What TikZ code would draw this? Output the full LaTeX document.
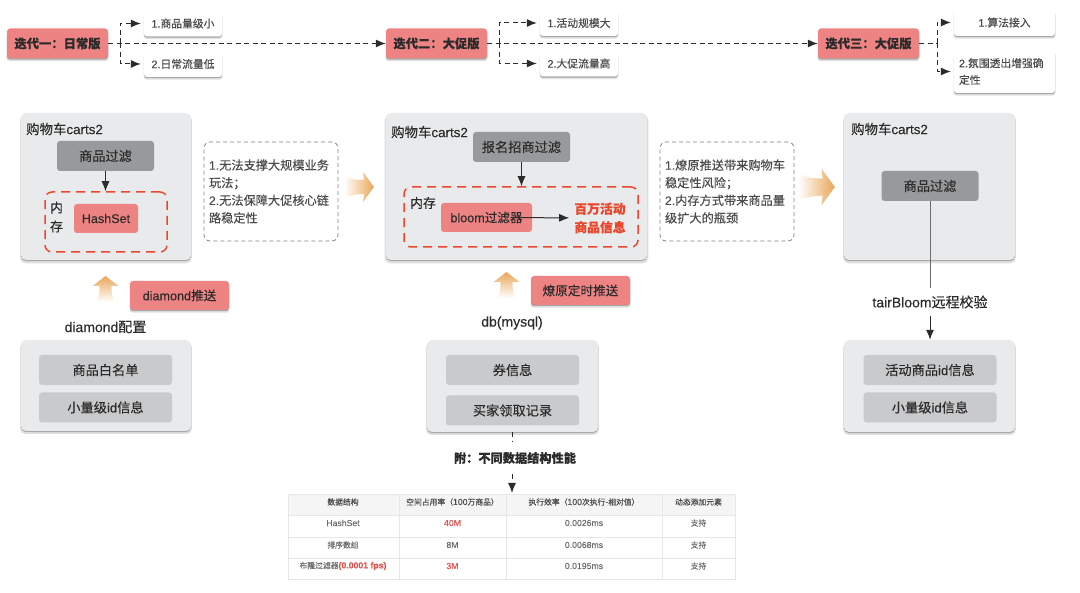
\documentclass[tikz,border=0pt]{standalone}
\usepackage{fontspec}
\setmainfont{Noto Sans CJK SC}[FakeBold=0.2]
\newfontfamily\lat{Liberation Sans}[FakeBold=0.2]
\newcommand{\la}[1]{{\lat #1}}
\newcommand{\lt}[1]{{\fontsize{8.7}{9}\selectfont\lat #1}}
\usetikzlibrary{arrows.meta,positioning,shadows}
\definecolor{salmon}{HTML}{EE8383}
\definecolor{panel}{HTML}{E9EAEB}
\definecolor{darkitem}{HTML}{98999B}
\definecolor{lightitem}{HTML}{C9CACC}
\definecolor{redline}{HTML}{E8492E}
\definecolor{flare}{HTML}{E9A65A}
\definecolor{ink}{HTML}{2B2B2B}
\definecolor{tableline}{HTML}{E6E7E9}
\definecolor{tablered}{HTML}{D9534F}
\tikzset{
	softshadow/.style = {drop shadow={shadow xshift=0pt, shadow yshift=-2.5pt, shadow scale=1.01, fill=black, opacity=.12}, drop shadow={shadow xshift=0pt, shadow yshift=-1.2pt, fill=black, opacity=.25}},
	iter/.style = {fill=salmon, rounded corners=3pt, minimum width=101pt, minimum height=30pt, inner sep=0pt, softshadow, text=ink, font=\fontsize{12.3}{14}\selectfont\bfseries},
	leaf/.style = {fill=white, rounded corners=3pt, minimum width=78pt, minimum height=26pt, inner sep=0pt, softshadow, text=ink!85, font=\fontsize{10.8}{16.7}\selectfont},
	panelbox/.style = {fill=panel, rounded corners=5pt, inner sep=0pt, softshadow},
	captext/.style = {text=ink, inner sep=0pt, font=\fontsize{13}{15}\selectfont},
	titletext/.style = {captext, anchor=west, font=\fontsize{13.4}{15}\selectfont},
	darkbox/.style = {fill=darkitem, rounded corners=3pt, minimum width=97pt, minimum height=30pt, inner sep=0pt, text=ink, font=\fontsize{13.2}{15}\selectfont},
	lightbox/.style = {fill=lightitem, rounded corners=3pt, minimum width=133pt, minimum height=30pt, inner sep=0pt, text=ink, font=\fontsize{13.2}{15}\selectfont},
	redbox/.style = {fill=salmon, rounded corners=3pt, minimum height=29pt, inner sep=0pt, text=ink, font=\fontsize{12.6}{15}\selectfont},
	memory/.style = {draw=redline, line width=1.5pt, dash pattern=on 9pt off 6pt, rounded corners=7pt, inner sep=0pt},
	note/.style = {draw=ink!60, line width=.8pt, dash pattern=on 4pt off 3pt, rounded corners=6pt, minimum width=134pt, minimum height=99pt, inner sep=5pt, text width=124pt, align=left, text=ink!85, font=\fontsize{12.2}{17.6}\selectfont},
	cell/.style = {inner sep=0pt, text=ink!70, font=\fontsize{7.8}{9}\selectfont},
	head/.style = {cell, text=ink!85, font=\fontsize{7.8}{9}\selectfont},
	dashplain/.style = {draw=ink, line width=1pt, dash pattern=on 5pt off 3.5pt},
	dashflow/.style = {dashplain, -{Latex[length=10pt,width=8pt]}},
	flow/.style = {draw=ink, line width=1pt, -{Latex[length=10pt,width=8pt]}},
	flareright/.pic = {\shade[left color=white, right color=flare] (0,-11) .. controls (8,-7) and (14,-7) .. (20,-7) -- (19,-15) -- (30,0) -- (19,15) -- (20,7) .. controls (14,7) and (8,8) .. (0,11) -- cycle;},
	flareup/.pic = {\shade[bottom color=white, top color=flare] (-9,0) .. controls (-6,-6) and (-6,-10) .. (-6,-16) -- (-13,-16) -- (0,-26) -- (13,-16) -- (6,-16) .. controls (6,-10) and (6,-6) .. (9,0) -- cycle;},
}
\begin{document}
\begin{tikzpicture}[x=1pt, y=-1pt]
	\useasboundingbox (0,0) rectangle (1080,593);
	% top row
	\node[iter] (iter1) at (57.5,43.5) {迭代一：日常版};
	\node[iter] (iter2) at (436.5,43.5) {迭代二：大促版};
	\node[iter] (iter3) at (868.5,43.5) {迭代三：大促版};
	\node[leaf] (leaf11) at (183,23.5) {\la{1.}商品量级小};
	\node[leaf] (leaf12) at (183,64) {\la{2.}日常流量低};
	\node[leaf] (leaf21) at (579,23) {\la{1.}活动规模大};
	\node[leaf] (leaf22) at (579,63.5) {\la{2.}大促流量高};
	\node[leaf, minimum width=101pt, minimum height=27pt] (leaf31) at (1004.5,22.5) {\la{1.}算法接入};
	\node[leaf, minimum width=101pt, minimum height=43pt, text width=91pt, align=left] (leaf32) at (1004.5,71.5) {\la{2.}氛围透出增强确\\定性};
	\coordinate (fork1) at (120,43.5);
	\coordinate (fork2) at (499,43.5);
	\coordinate (fork3) at (937,43.5);
	\draw[dashflow] (iter1) -- (iter2);
	\draw[dashflow] (iter2) -- (iter3);
	\draw[dashplain] (iter3) -- (fork3);
	\draw[dashflow, shorten >=3pt] (fork1) |- (leaf11);
	\draw[dashflow, shorten >=3pt] (fork1) |- (leaf12);
	\draw[dashflow, shorten >=3pt] (fork2) |- (leaf21);
	\draw[dashflow, shorten >=3pt] (fork2) |- (leaf22);
	\draw[dashflow, shorten >=3pt] (fork3) |- (leaf31);
	\draw[dashflow, shorten >=3pt] (fork3) |- (leaf32);
	% first column
	\node[panelbox, minimum width=170pt, minimum height=147pt] (cart1) at (106,186.5) {};
	\node[titletext] (title1) at (26,129) {购物车\la{carts2}};
	\node[darkbox] (filter1) at (105.5,156) {商品过滤};
	\node[memory, minimum width=122pt, minimum height=60pt] (mem1) at (106,222) {};
	\node[captext, align=center, font=\fontsize{13}{19}\selectfont] (memtext1) at (56.5,217) {内\\存};
	\node[redbox, minimum width=64pt] (hashset) at (106,218.5) {\la{HashSet}};
	\draw[flow] (filter1) -- (mem1.north -| filter1);
	\node[note] (note1) at (271,191.5) {\la{1.}无法支撑大规模业务\\玩法；\\\la{2.}无法保障大促核心链\\路稳定性};
	\pic at (344,187) {flareright};
	\pic at (105.5,302) {flareup};
	\node[iter, minimum width=99pt, minimum height=29pt, font=\fontsize{12.6}{15}\selectfont] (push1) at (179.5,295.5) {\la{diamond}推送};
	\node[captext, font=\fontsize{14}{15}\selectfont] (source1) at (105.5,327) {\la{diamond}配置};
	\node[panelbox, minimum width=170pt, minimum height=91pt] (store1) at (106,385.5) {};
	\node[lightbox] (white) at (105.5,370) {商品白名单};
	\node[lightbox, below=7pt of white] (small1) {小量级\la{id}信息};
	% second column
	\node[panelbox, minimum width=261pt, minimum height=147pt] (cart2) at (516.5,186.5) {};
	\node[titletext] (title2) at (391,132) {购物车\la{carts2}};
	\node[darkbox] (filter2) at (521.5,147) {报名招商过滤};
	\node[memory, minimum width=234pt, minimum height=60pt] (mem2) at (521,217) {};
	\node[captext] (memtext2) at (423,203) {内存};
	\node[redbox, minimum width=91pt] (bloom) at (486.5,217.5) {\la{bloom}过滤器};
	\node[align=center, inner sep=0pt, text=redline, font=\fontsize{12.8}{18.5}\selectfont\bfseries] (million) at (600,218) {百万活动\\商品信息};
	\draw[flow] (filter2) -- (mem2.north -| filter2);
	\draw[flow, shorten <=-19pt, shorten >=5pt] (bloom) -- (million);
	\node[note] (note2) at (727,191.5) {\la{1.}燎原推送带来购物车\\稳定性风险；\\\la{2.}内存方式带来商品量\\级扩大的瓶颈};
	\pic[scale=1.23] at (798,187) {flareright};
	\pic at (506.5,298) {flareup};
	\node[iter, minimum width=99pt, minimum height=29pt, font=\fontsize{12.6}{15}\selectfont] (push2) at (580.5,290.5) {燎原定时推送};
	\node[captext, font=\fontsize{14}{15}\selectfont] (source2) at (512,323) {\la{db(mysql)}};
	\node[panelbox, minimum width=171pt, minimum height=92pt] (store2) at (512.5,386) {};
	\node[lightbox] (coupon) at (512.5,370) {券信息};
	\node[lightbox, below=10pt of coupon] (record) {买家领取记录};
	% third column
	\node[panelbox, minimum width=171pt, minimum height=147pt] (cart3) at (929.5,186.5) {};
	\node[titletext] (title3) at (851,129) {购物车\la{carts2}};
	\node[darkbox] (filter3) at (930,186) {商品过滤};
	\node[captext, inner ysep=7pt, font=\fontsize{14}{15}\selectfont] (tair) at (930,302) {\la{tairBloom}远程校验};
	\node[panelbox, minimum width=171pt, minimum height=92pt] (store3) at (929.5,386) {};
	\node[lightbox] (active) at (930,370) {活动商品\la{id}信息};
	\node[lightbox, below=7pt of active] (small3) {小量级\la{id}信息};
	\draw[draw=ink!70, line width=1pt] (filter3) -- (tair);
	\draw[flow] (tair) -- (tair |- store3.north);
	% table
	\node[captext, inner ysep=10pt, font=\fontsize{12.2}{15}\selectfont\bfseries] (extra) at (515,458) {附：不同数据结构性能};
	\coordinate (tabletop) at (512,493);
	\draw[dashplain] (store2.south) -- (store2.south |- extra.north);
	\draw[dashflow] (extra.south -| tabletop) -- (tabletop);
	\fill[black!4] (288,494) rectangle (735,515);
	\draw[tableline, line width=.8pt] (288,494) rectangle (735,579);
	\draw[tableline, line width=.8pt] (288,515) -- (735,515) (288,537) -- (735,537) (288,558) -- (735,558);
	\draw[tableline, line width=.8pt] (399,494) -- (399,579) (506,494) -- (506,579) (662,494) -- (662,579);
	\node[head] (h1) at (343,502) {数据结构};
	\node[head] (h2) at (452.5,502) {空间占用率（\lt{100}万商品）};
	\node[head] (h3) at (584,502) {执行效率（\lt{100}次执行\lt{-}相对值）};
	\node[head] (h4) at (698.5,502) {动态添加元素};
	\node[cell] (a1) at (343,523) {\lt{HashSet}};
	\node[cell, text=tablered] (a2) at (452.5,523) {\lt{40M}};
	\node[cell] (a3) at (584,523) {\lt{0.0026ms}};
	\node[cell] (a4) at (698.5,523) {支持};
	\node[cell] (b1) at (343,545) {排序数组};
	\node[cell] (b2) at (452.5,545) {\lt{8M}};
	\node[cell] (b3) at (584,545) {\lt{0.0068ms}};
	\node[cell] (b4) at (698.5,545) {支持};
	\node[cell] (c1) at (343,566) {布隆过滤器\textcolor{tablered}{\lt{\bfseries (0.0001 fps)}}};
	\node[cell, text=tablered] (c2) at (452.5,566) {\lt{3M}};
	\node[cell] (c3) at (584,566) {\lt{0.0195ms}};
	\node[cell] (c4) at (698.5,566) {支持};
\end{tikzpicture}
\end{document}
